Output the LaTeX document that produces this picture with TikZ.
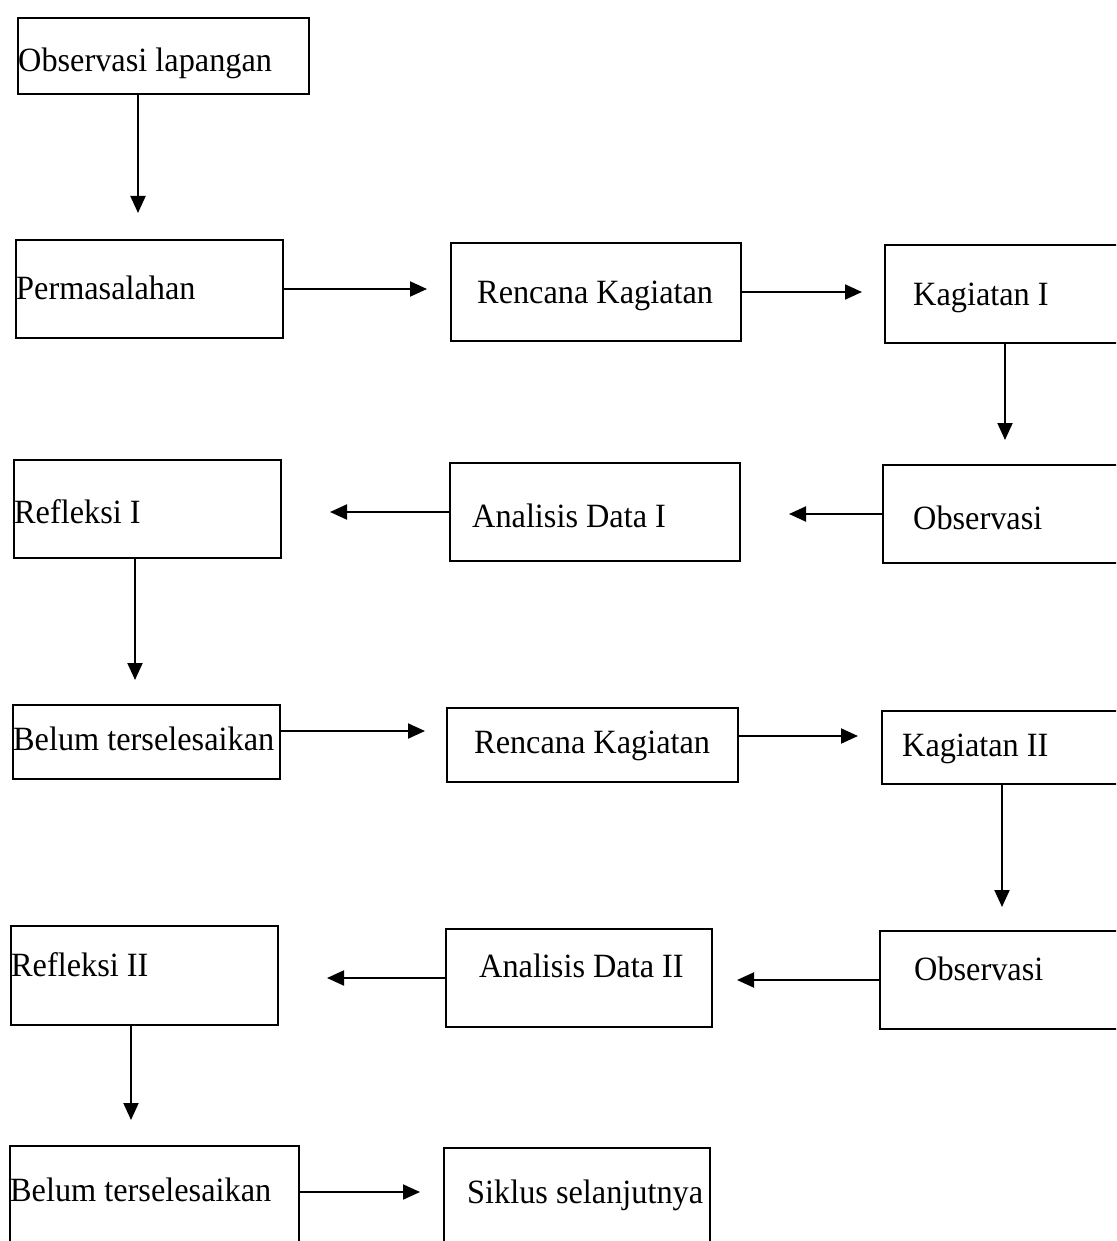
\documentclass[tikz,border=0pt]{standalone}
\usepackage{fontspec}
\setmainfont{Liberation Serif}
\usetikzlibrary{arrows.meta}
\newcommand\condtxt[1]{\scalebox{0.95}[1]{#1}}
\tikzset{
  box/.style={draw, line width=2pt, anchor=north west, inner sep=0pt},
  txt/.style={anchor=base west, inner sep=0pt, font=\fontsize{34}{38}\selectfont},
  arr/.style={line width=2pt, -{Triangle[length=17pt,width=15pt]}}
}
\begin{document}
\begin{tikzpicture}[x=1pt,y=-1pt]
\useasboundingbox (0,0) rectangle (1116,1241);
\clip (0,0) rectangle (1116,1241);
% boxes
\node[box, minimum width=291pt, minimum height=76pt] (b1) at (17,17) {};
\node[box, minimum width=267pt, minimum height=98pt] (b2) at (15,239) {};
\node[box, minimum width=290pt, minimum height=98pt] (b3) at (450,242) {};
\node[box, minimum width=250pt, minimum height=98pt] (b4) at (884,244) {};
\node[box, minimum width=267pt, minimum height=98pt] (b5) at (13,459) {};
\node[box, minimum width=290pt, minimum height=98pt] (b6) at (449,462) {};
\node[box, minimum width=250pt, minimum height=98pt] (b7) at (882,464) {};
\node[box, minimum width=267pt, minimum height=74pt] (b8) at (12,704) {};
\node[box, minimum width=291pt, minimum height=74pt] (b9) at (446,707) {};
\node[box, minimum width=250pt, minimum height=73pt] (b10) at (881,710) {};
\node[box, minimum width=267pt, minimum height=99pt] (b11) at (10,925) {};
\node[box, minimum width=266pt, minimum height=98pt] (b12) at (445,928) {};
\node[box, minimum width=250pt, minimum height=98pt] (b13) at (879,930) {};
\node[box, minimum width=289pt, minimum height=120pt] (b14) at (9,1145) {};
\node[box, minimum width=266pt, minimum height=120pt] (b15) at (443,1147) {};
% texts
\node[txt] (t1) at ([shift={(1,55)}]b1.north west) {\condtxt{Observasi lapangan}};
\node[txt] (t2) at ([shift={(1,60)}]b2.north west) {\condtxt{Permasalahan}};
\node[txt] (t3) at ([shift={(27,61)}]b3.north west) {\condtxt{Rencana Kagiatan}};
\node[txt] (t4) at ([shift={(29,61)}]b4.north west) {\condtxt{Kagiatan I}};
\node[txt] (t5) at ([shift={(1,64)}]b5.north west) {\condtxt{Refleksi I}};
\node[txt] (t6) at ([shift={(23,65)}]b6.north west) {\condtxt{Analisis Data I}};
\node[txt] (t7) at ([shift={(31,65)}]b7.north west) {\condtxt{Observasi}};
\node[txt] (t8) at ([shift={(1,46)}]b8.north west) {\condtxt{Belum terselesaikan}};
\node[txt] (t9) at ([shift={(28,46)}]b9.north west) {\condtxt{Rencana Kagiatan}};
\node[txt] (t10) at ([shift={(21,46)}]b10.north west) {\condtxt{Kagiatan II}};
\node[txt] (t11) at ([shift={(1,51)}]b11.north west) {\condtxt{Refleksi II}};
\node[txt] (t12) at ([shift={(34,49)}]b12.north west) {\condtxt{Analisis Data II}};
\node[txt] (t13) at ([shift={(35,50)}]b13.north west) {\condtxt{Observasi}};
\node[txt] (t14) at ([shift={(1,56)}]b14.north west) {\condtxt{Belum terselesaikan}};
\node[txt] (t15) at ([shift={(24,56)}]b15.north west) {\condtxt{Siklus selanjutnya}};
% connector start points
\coordinate (a1) at ([xshift=121pt]b1.south west);
\coordinate (a4) at ([xshift=121pt]b4.south west);
\coordinate (a5) at ([xshift=122pt]b5.south west);
\coordinate (a8) at ([yshift=11pt]b8.east);
\coordinate (a9) at ([yshift=9pt]b9.east);
\coordinate (a10) at ([xshift=121pt]b10.south west);
\coordinate (a11) at ([xshift=121pt]b11.south west);
\coordinate (a14) at ([yshift=-47pt]b14.north east);
% connectors
\draw[arr, shorten >=26pt] (a1) -- (a1 |- b2.north);
\draw[arr, shorten >=23pt] (b2.east) -- (b2.east -| b3.west);
\draw[arr, shorten >=22pt] (b3.east) -- (b3.east -| b4.west);
\draw[arr, shorten >=24pt] (a4) -- (a4 |- b7.north);
\draw[arr, shorten >=48pt] (b7.west) -- (b7.west -| b6.east);
\draw[arr, shorten >=48pt] (b6.west) -- (b6.west -| b5.east);
\draw[arr, shorten >=24pt] (a5) -- (a5 |- b8.north);
\draw[arr, shorten >=21pt] (a8) -- (a8 -| b9.west);
\draw[arr, shorten >=23pt] (a9) -- (a9 -| b10.west);
\draw[arr, shorten >=23pt] (a10) -- (a10 |- b13.north);
\draw[arr, shorten >=24pt] (b13.west) -- (b13.west -| b12.east);
\draw[arr, shorten >=48pt] (b12.west) -- (b12.west -| b11.east);
\draw[arr, shorten >=25pt] (a11) -- (a11 |- b14.north);
\draw[arr, shorten >=23pt] (a14) -- (a14 -| b15.west);
\end{tikzpicture}
\end{document}
